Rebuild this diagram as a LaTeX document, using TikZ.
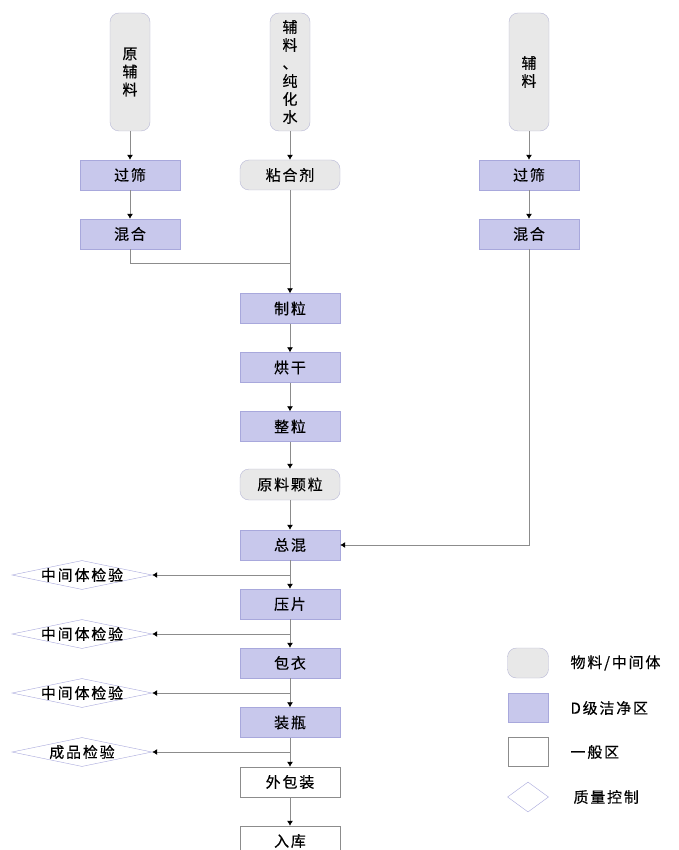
\documentclass[tikz,border=0pt]{standalone}
\usepackage{fontspec}
\setmainfont[LetterSpace=12, FakeBold=0.4]{Noto Sans CJK SC}
\usepackage{tikz}
\usetikzlibrary{shapes.geometric, arrows.meta}
\definecolor{cleanfill}{RGB}{200,200,236}
\definecolor{cleanedge}{RGB}{168,168,220}
\definecolor{matfill}{RGB}{232,232,232}
\definecolor{matedge}{RGB}{184,184,214}
\definecolor{linegray}{RGB}{140,140,140}
\tikzset{>={Latex[length=5pt,width=6pt,color=black]}}
\tikzset{
  txt/.style = {font=\fontsize{15}{18}\selectfont},
  material/.style = {txt, draw=matedge, fill=matfill, rounded corners=9pt, align=center, inner sep=0pt},
  clean/.style = {txt, draw=cleanedge, fill=cleanfill, minimum width=100pt, minimum height=30pt, inner sep=0pt},
  general/.style = {txt, draw=linegray, fill=white, minimum width=100pt, minimum height=30pt, inner sep=0pt},
  check/.style = {txt, diamond, draw=cleanedge, fill=white, aspect=4.8, inner xsep=-9pt, inner ysep=0pt, minimum width=140pt, minimum height=29pt},
  flow/.style = {draw=linegray, line width=0.8pt}
}

\begin{document}
\begin{tikzpicture}[x=1pt, y=-1pt]
\fill[white] (0, 0) rectangle (678, 850); % background
\useasboundingbox (0, 0) rectangle (678, 850);

% sources
\node[material, minimum width=40pt, minimum height=118pt] (src1) at (130, 72) {原\\辅\\料};
\node[material, minimum width=40pt, minimum height=118pt] (src2) at (290, 72) {辅\\料\\、\\纯\\化\\水};
\node[material, minimum width=40pt, minimum height=118pt] (src3) at (529, 72) {辅\\料};

\node[clean] (sieve1) at (130, 175) {过筛};
\node[clean] (mix1) at (130, 234) {混合};
\node[material, minimum width=100pt, minimum height=30pt] (binder) at (290, 175) {粘合剂};
\node[clean] (sieve3) at (529, 175) {过筛};
\node[clean] (mix3) at (529, 234) {混合};

% main line
\node[clean] (gran) at (290, 308.5) {制粒};
\node[clean] (dry) at (290, 367.5) {烘干};
\node[clean] (size) at (290, 426.5) {整粒};
\node[material, minimum width=100pt, minimum height=31pt] (granule) at (290, 484.5) {原料颗粒};
\node[clean] (blend) at (290, 545) {总混};
\node[clean] (press) at (290, 604) {压片};
\node[clean] (coat) at (290, 663) {包衣};
\node[clean] (fill) at (290, 722.5) {装瓶};
\node[general] (pack) at (290, 782) {外包装};
\node[general] (store) at (290, 841) {入库};

\node[check] (chk1) at (82, 575) {中间体检验};
\node[check] (chk2) at (82, 634) {中间体检验};
\node[check] (chk3) at (82, 693) {中间体检验};
\node[check] (chk4) at (82, 752) {成品检验};

\coordinate (join) at (290, 263);

\draw[flow, ->] (src1) -- (sieve1);
\draw[flow, ->] (sieve1) -- (mix1);
\draw[flow] (mix1.south) |- (join);
\draw[flow, ->] (src2) -- (binder);
\draw[flow, ->] (binder) -- (gran);
\draw[flow, ->] (src3) -- (sieve3);
\draw[flow, ->] (sieve3) -- (mix3);
\draw[flow, ->] (mix3.south) |- (blend.east);

\draw[flow, ->] (gran) -- (dry);
\draw[flow, ->] (dry) -- (size);
\draw[flow, ->] (size) -- (granule);
\draw[flow, ->] (granule) -- (blend);
\draw[flow, ->] (blend) -- (press);
\draw[flow, ->] (press) -- (coat);
\draw[flow, ->] (coat) -- (fill);
\draw[flow, ->] (fill) -- (pack);
\draw[flow, ->] (pack) -- (store);

\draw[flow, ->] (blend.south |- chk1.east) -- (chk1.east);
\draw[flow, ->] (press.south |- chk2.east) -- (chk2.east);
\draw[flow, ->] (coat.south |- chk3.east) -- (chk3.east);
\draw[flow, ->] (fill.south |- chk4.east) -- (chk4.east);

% legend
\node[material, minimum width=41pt, minimum height=30pt] (lg1) at (528, 663) {};
\node[clean, minimum width=40pt, minimum height=29pt] (lg2) at (528, 707.5) {};
\node[general, minimum width=40pt, minimum height=29pt] (lg3) at (528, 752) {};
\node[check, aspect=1.37, minimum width=41pt, minimum height=30pt] (lg4) at (528, 797) {};
\node[txt, anchor=west] (lgt1) at (567, 663) {物料/中间体};
\node[txt, anchor=west] (lgt2) at (567, 708) {D级洁净区};
\node[txt, anchor=west] (lgt3) at (567, 752) {一般区};
\node[txt, anchor=west] (lgt4) at (570, 797) {质量控制};
\end{tikzpicture}
\end{document}
